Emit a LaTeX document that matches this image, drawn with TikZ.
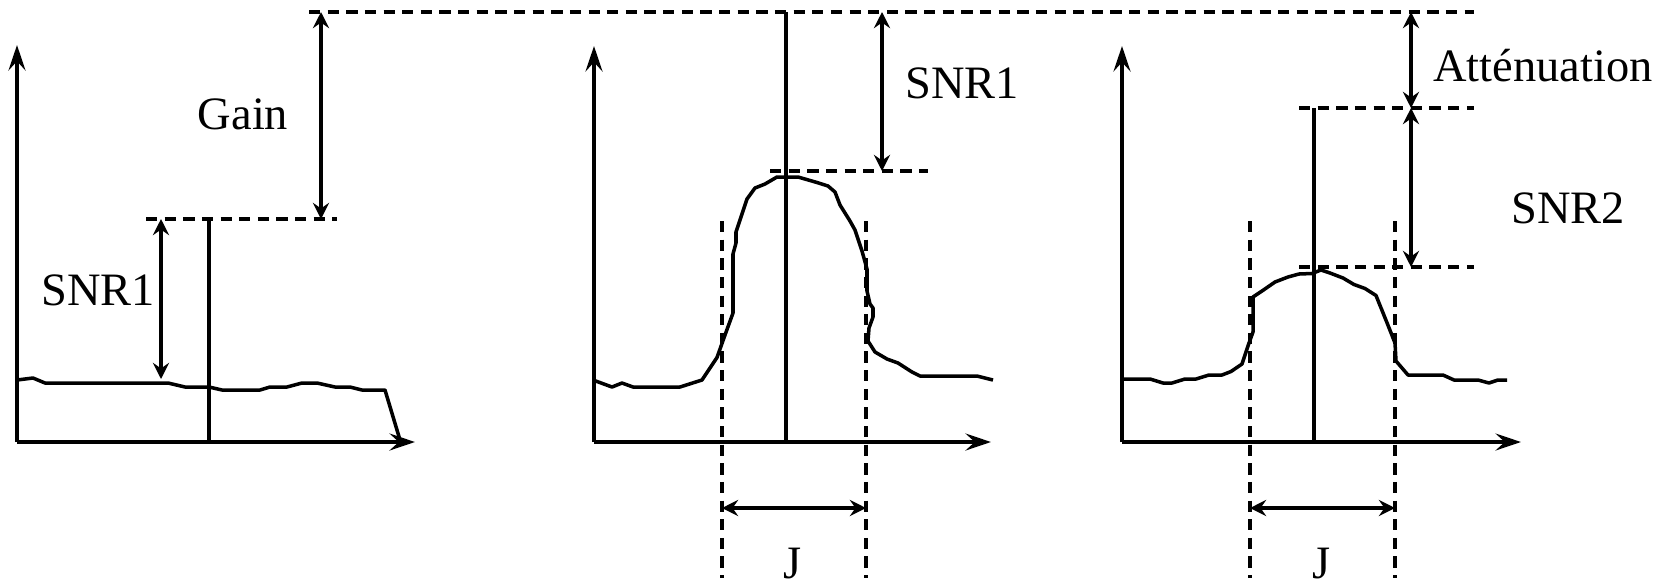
\documentclass[tikz,border=0pt]{standalone}
\usepackage{fontspec}
\setmainfont{Liberation Serif}
\newfontfamily\lblfont{Liberation Serif}
\usetikzlibrary{arrows.meta}
\begin{document}
\begin{tikzpicture}[x=0.01cm,y=-0.01cm,
  axis/.style={line width=1.15pt,-{Stealth[length=7.2pt,width=4.8pt,inset=2.6pt]}},
  stem/.style={line width=1.15pt},
  curve/.style={line width=1pt,line join=round},
  dashline/.style={line width=1.15pt,dash pattern=on 3.2pt off 2.1pt},
  dim/.style={line width=1.15pt,{Stealth[length=4.6pt,width=4.6pt,inset=1.6pt]}-{Stealth[length=4.6pt,width=4.6pt,inset=1.6pt]}},
  lbl/.style={inner sep=0pt,anchor=base,font=\lblfont\fontsize{13.2}{15}\selectfont}]
\useasboundingbox (0,0) rectangle (1675,578);

% ---------- key coordinates ----------
\coordinate (o1) at (17,442);   \coordinate (y1) at (17,45);   \coordinate (x1) at (415,442);
\coordinate (o2) at (594,442);  \coordinate (y2) at (594,46);  \coordinate (x2) at (991,442);
\coordinate (o3) at (1122,442); \coordinate (y3) at (1122,46); \coordinate (x3) at (1521,442);

% ---------- axes ----------
\draw[axis] (o1) -- (y1);
\draw[axis] (o1) -- (x1);
\draw[axis] (o2) -- (y2);
\draw[axis] (o2) -- (x2);
\draw[axis] (o3) -- (y3);
\draw[axis] (o3) -- (x3);

% ---------- left plot ----------
\draw[curve] (17,380) -- (33,378) -- (45,383) -- (168,383) -- (185,387) -- (209,387)
  -- (222,390) -- (260,390) -- (270,387) -- (287,387) -- (302,383) -- (317,383)
  -- (335,387) -- (350,387) -- (362,390) -- (385,390) -- (400,440);
\coordinate (s1T) at (209,219); \coordinate (s1B) at (209,442);
\draw[stem] (s1T) -- (s1B);
\coordinate (dl1) at (146,219); \coordinate (dl2) at (337,219);
\draw[dashline] (dl1) -- (dl2);
\coordinate (top1) at (309,12); \coordinate (top2) at (1474,12);
\draw[dashline] (top1) -- (top2);
\coordinate (gT) at (321,12); \coordinate (gB) at (321,219);
\draw[dim] (gT) -- (gB);
\coordinate (aT) at (161,219); \coordinate (aB) at (161,379);
\draw[dim] (aT) -- (aB);
\node[lbl] (gain) at (243,129) {Gain};
\node[lbl] (snrA) at (98,305) {SNR1};

% ---------- middle plot ----------
\draw[curve] (593,380) -- (612,387) -- (622,383) -- (633,387) -- (680,387) -- (702,380)
  -- (717,357.5) -- (725,335) -- (733,313) -- (733,254) -- (736,243) -- (736,232)
  -- (747,199) -- (755,188) -- (765,184) -- (777,177) -- (798,177) -- (817,182.5)
  -- (828,186) -- (835,192) -- (840,205) -- (850,221) -- (855,230) -- (862,251)
  -- (867,269) -- (867,291) -- (870,304) -- (873,308) -- (873,317) -- (869,328)
  -- (868,341) -- (875,352) -- (887,359) -- (898,363) -- (912,372) -- (920,376)
  -- (977,376) -- (993,380);
\coordinate (s2T) at (786,12); \coordinate (s2B) at (786,442);
\draw[stem] (s2T) -- (s2B);
\coordinate (p1) at (770,171); \coordinate (p2) at (928,171);
\draw[dashline] (p1) -- (p2);
\coordinate (bT) at (882,12); \coordinate (bB) at (882,171);
\draw[dim] (bT) -- (bB);
\coordinate (v1T) at (722,221); \coordinate (v1B) at (722,578);
\coordinate (v2T) at (866,221); \coordinate (v2B) at (866,578);
\draw[dashline] (v1T) -- (v1B);
\draw[dashline] (v2T) -- (v2B);
\coordinate (j1L) at (722,508); \coordinate (j1R) at (866,508);
\draw[dim] (j1L) -- (j1R);
\node[lbl] (snrB) at (962,98) {SNR1};
\node[lbl] (jA) at (793,578) {J};

% ---------- right plot ----------
\draw[curve] (1122,379) -- (1150,379) -- (1163,383) -- (1172,383) -- (1185,379) -- (1196,379)
  -- (1209,375) -- (1222,375) -- (1231,371.5) -- (1242,364) -- (1249,343) -- (1253,332)
  -- (1253,297) -- (1262,291) -- (1275,282) -- (1288,277) -- (1299,274) -- (1312,273.5)
  -- (1321,270) -- (1330,273) -- (1343,278) -- (1354,284.5) -- (1365,288.5) -- (1376,295.5)
  -- (1387.5,324) -- (1395,343) -- (1396,361) -- (1408,375) -- (1443,375) -- (1454,380)
  -- (1478,380) -- (1489,383) -- (1498,380) -- (1507,380);
\coordinate (s3T) at (1314,108); \coordinate (s3B) at (1314,442);
\draw[stem] (s3T) -- (s3B);
\coordinate (q1) at (1299,108); \coordinate (q2) at (1474,108);
\draw[dashline] (q1) -- (q2);
\coordinate (r1) at (1299,267); \coordinate (r2) at (1474,267);
\draw[dashline] (r1) -- (r2);
\coordinate (cT) at (1411,12); \coordinate (cM) at (1411,108); \coordinate (cB) at (1411,267);
\draw[dim] (cT) -- (cM);
\draw[dim] (cM) -- (cB);
\coordinate (w1T) at (1250,221); \coordinate (w1B) at (1250,578);
\coordinate (w2T) at (1395,221); \coordinate (w2B) at (1395,578);
\draw[dashline] (w1T) -- (w1B);
\draw[dashline] (w2T) -- (w2B);
\coordinate (j2L) at (1250,508); \coordinate (j2R) at (1395,508);
\draw[dim] (j2L) -- (j2R);
\node[lbl] (att) at (1543,81) {Atténuation};
\node[lbl] (snrC) at (1568,223) {SNR2};
\node[lbl] (jB) at (1322,578) {J};
\end{tikzpicture}
\end{document}
